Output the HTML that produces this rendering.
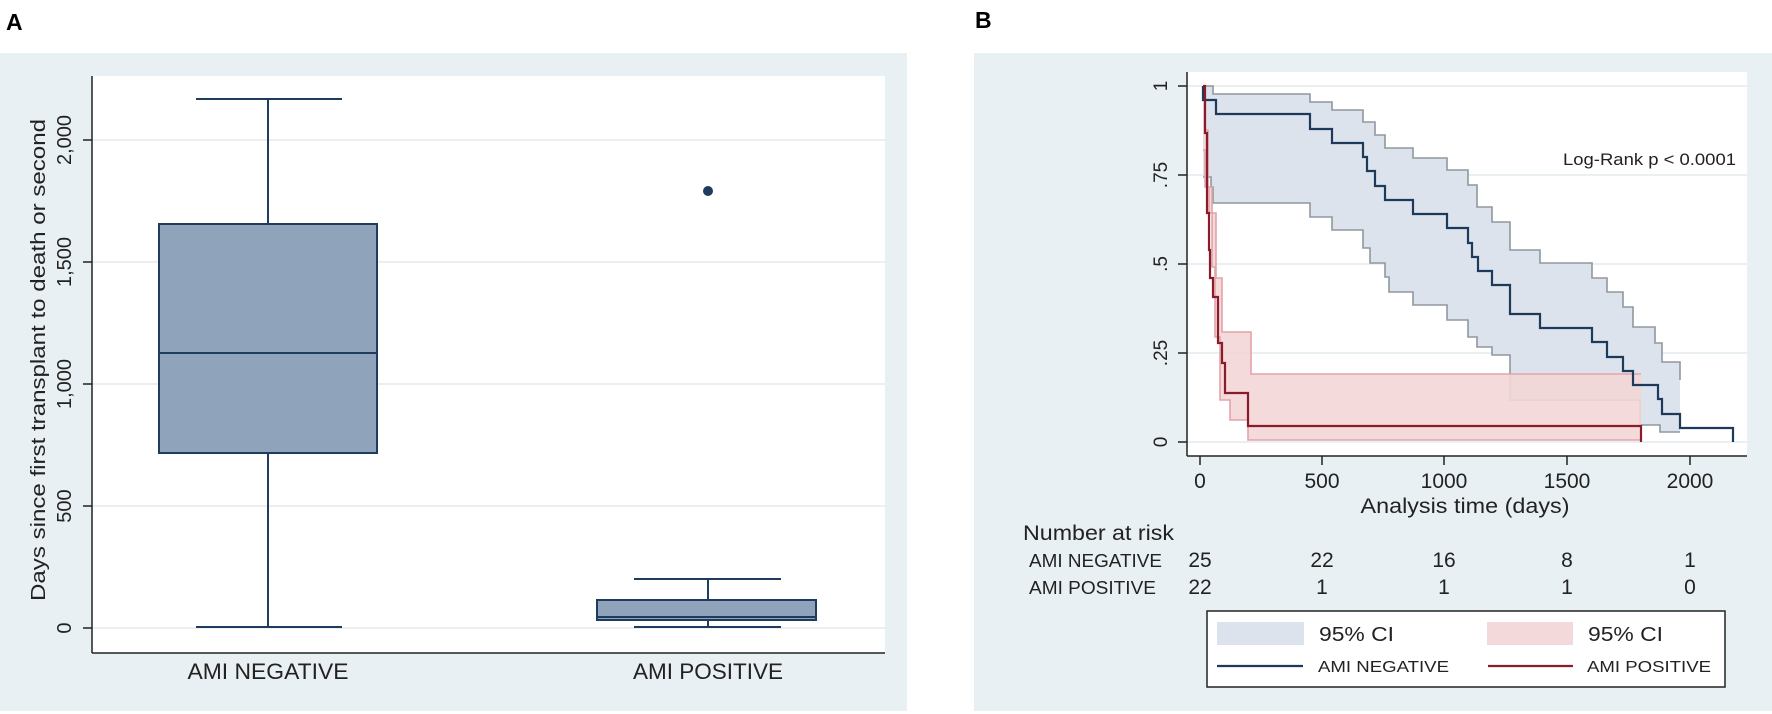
<!DOCTYPE html>
<html><head><meta charset="utf-8"><style>
html,body{margin:0;padding:0;background:#fff;}
svg{display:block;font-family:"Liberation Sans",Arial,sans-serif;}
</style></head><body>
<svg width="1772" height="714" viewBox="0 0 1772 714" xmlns="http://www.w3.org/2000/svg">
<rect width="1772" height="714" fill="#fff"/>
<!-- Panel A -->
<text x="6" y="30" font-size="23" font-weight="bold" fill="#000">A</text>
<rect x="0" y="53" width="907" height="658" fill="#e9f0f3"/>
<rect x="92" y="76" width="793" height="577" fill="#fff"/>
<g stroke="#e4ebee" stroke-width="1.5">
<line x1="92" y1="628" x2="885" y2="628"/><line x1="92" y1="506" x2="885" y2="506"/>
<line x1="92" y1="384" x2="885" y2="384"/><line x1="92" y1="262" x2="885" y2="262"/>
<line x1="92" y1="140" x2="885" y2="140"/>
</g>
<g stroke="#222" stroke-width="1.5">
<line x1="92" y1="76" x2="92" y2="653"/><line x1="92" y1="653" x2="885" y2="653"/>
<line x1="83" y1="628" x2="92" y2="628"/><line x1="83" y1="506" x2="92" y2="506"/>
<line x1="83" y1="384" x2="92" y2="384"/><line x1="83" y1="262" x2="92" y2="262"/>
<line x1="83" y1="140" x2="92" y2="140"/>
</g>
<g font-size="20" fill="#222" text-anchor="middle">
<text transform="translate(71,628) rotate(-90)">0</text>
<text transform="translate(71,506) rotate(-90)">500</text>
<text transform="translate(71,384) rotate(-90)">1,000</text>
<text transform="translate(71,262) rotate(-90)">1,500</text>
<text transform="translate(71,140) rotate(-90)">2,000</text>
<text transform="translate(45,360) rotate(-90)" textLength="482" lengthAdjust="spacingAndGlyphs">Days since first transplant to death or second</text>
</g>
<g stroke="#1f3c5e" stroke-width="2" fill="none">
<line x1="268" y1="99" x2="268" y2="224"/><line x1="196" y1="99" x2="342" y2="99"/>
<line x1="268" y1="453" x2="268" y2="627"/><line x1="196" y1="627" x2="342" y2="627"/>
<rect x="159" y="224" width="218" height="229" fill="#8fa3bb"/>
<line x1="159" y1="353" x2="377" y2="353"/>
<line x1="708" y1="579" x2="708" y2="600"/><line x1="634" y1="579" x2="781" y2="579"/>
<line x1="708" y1="620" x2="708" y2="627"/><line x1="634" y1="627" x2="781" y2="627"/>
<rect x="597" y="600" width="219" height="20" fill="#8fa3bb"/>
<line x1="597" y1="617" x2="816" y2="617"/>
</g>
<circle cx="708" cy="191" r="5" fill="#1f3c5e"/>
<g font-size="22" fill="#222" text-anchor="middle">
<text x="268" y="679" textLength="161" lengthAdjust="spacingAndGlyphs">AMI NEGATIVE</text>
<text x="708" y="679" textLength="150" lengthAdjust="spacingAndGlyphs">AMI POSITIVE</text>
</g>

<!-- Panel B -->
<text x="975" y="28" font-size="23" font-weight="bold" fill="#000">B</text>
<rect x="974" y="53" width="798" height="658" fill="#e9f0f3"/>
<rect x="1187" y="72" width="560" height="384" fill="#fff"/>
<g stroke="#e4ebee" stroke-width="1.5">
<line x1="1187" y1="86" x2="1747" y2="86"/><line x1="1187" y1="175" x2="1747" y2="175"/>
<line x1="1187" y1="264" x2="1747" y2="264"/><line x1="1187" y1="353" x2="1747" y2="353"/>
<line x1="1187" y1="442" x2="1747" y2="442"/>
</g>
<!-- blue CI -->
<polygon fill="#dde3ec" points="1203,86 1213,86 1213,94 1310,94 1310,102 1332,102 1332,110 1363,110 1363,122 1375,122 1375,135 1385,135 1385,148 1413,148 1413,158 1447,158 1447,170 1468,170 1468,185 1477,185 1477,207 1492,207 1492,222 1510,222 1510,250 1540,250 1540,263 1592,263 1592,278 1607,278 1607,292 1623,292 1623,307 1633,307 1633,327 1655,327 1655,343 1662,343 1662,362 1680,362 1680,432 1660,432 1660,425 1640,425 1640,400 1510,400 1510,355 1492,355 1492,347 1477,347 1477,337 1468,337 1468,320 1447,320 1447,305 1413,305 1413,292 1389,292 1389,277 1385,277 1385,263 1370,263 1370,248 1363,248 1363,230 1332,230 1332,217 1310,217 1310,203 1213,203 1213,187 1211,187 1211,177 1203,177"/>
<g fill="none" stroke="#8f979f" stroke-width="1.6">
<polyline points="1203,86 1213,86 1213,94 1310,94 1310,102 1332,102 1332,110 1363,110 1363,122 1375,122 1375,135 1385,135 1385,148 1413,148 1413,158 1447,158 1447,170 1468,170 1468,185 1477,185 1477,207 1492,207 1492,222 1510,222 1510,250 1540,250 1540,263 1592,263 1592,278 1607,278 1607,292 1623,292 1623,307 1633,307 1633,327 1655,327 1655,343 1662,343 1662,362 1680,362 1680,380"/>
<polyline points="1203,177 1211,177 1211,187 1213,187 1213,203 1310,203 1310,217 1332,217 1332,230 1363,230 1363,248 1370,248 1370,263 1385,263 1385,277 1389,277 1389,292 1413,292 1413,305 1447,305 1447,320 1468,320 1468,337 1477,337 1477,347 1492,347 1492,355 1510,355 1510,400 1640,400 1640,425 1660,425 1660,432 1680,432"/>
</g>
<!-- red CI -->
<polygon fill="#f3d6d6" fill-opacity="0.9" points="1203,86 1205,86 1205,130 1208,130 1208,187 1212,187 1212,213 1216,213 1216,278 1222,278 1222,332 1251,332 1251,374 1641,374 1641,440 1248,440 1248,420 1230,420 1230,400 1220,400 1220,337 1215,337 1215,267 1212,267 1212,213 1209,213 1209,187 1205,187 1205,150 1203,150"/>
<g fill="none" stroke="#e2a4a8" stroke-width="1.6">
<polyline points="1203,86 1205,86 1205,130 1208,130 1208,187 1212,187 1212,213 1216,213 1216,278 1222,278 1222,332 1251,332 1251,374 1641,374"/>
<polyline points="1203,150 1205,150 1205,187 1209,187 1209,213 1212,213 1212,267 1215,267 1215,337 1220,337 1220,400 1230,400 1230,420 1248,420 1248,440 1641,440"/>
</g>
<!-- blue KM -->
<polyline fill="none" stroke="#1e3a5a" stroke-width="2.2" points="1203,86 1203,100 1216,100 1216,114 1310,114 1310,129 1332,129 1332,143 1363,143 1363,157 1367,157 1367,171 1375,171 1375,186 1385,186 1385,200 1413,200 1413,214 1447,214 1447,228 1468,228 1468,243 1472,243 1472,257 1478,257 1478,271 1492,271 1492,285 1510,285 1510,314 1540,314 1540,328 1592,328 1592,342 1607,342 1607,357 1623,357 1623,371 1633,371 1633,385 1658,385 1658,399 1662,399 1662,414 1680,414 1680,428 1733,428 1733,442"/>
<!-- red KM -->
<polyline fill="none" stroke="#8b1a2a" stroke-width="2.2" points="1203,86 1205,86 1205,133 1207,133 1207,213 1209,213 1209,250 1210,250 1210,278 1213,278 1213,297 1218,297 1218,343 1222,343 1222,363 1225,363 1225,393 1248,393 1248,426 1641,426 1641,442"/>
<!-- axes -->
<g stroke="#222" stroke-width="1.5">
<line x1="1187" y1="72" x2="1187" y2="456"/><line x1="1187" y1="456" x2="1747" y2="456"/>
<line x1="1178" y1="86" x2="1187" y2="86"/><line x1="1178" y1="175" x2="1187" y2="175"/>
<line x1="1178" y1="264" x2="1187" y2="264"/><line x1="1178" y1="353" x2="1187" y2="353"/>
<line x1="1178" y1="442" x2="1187" y2="442"/>
<line x1="1200" y1="456" x2="1200" y2="465"/><line x1="1322" y1="456" x2="1322" y2="465"/>
<line x1="1444" y1="456" x2="1444" y2="465"/><line x1="1567" y1="456" x2="1567" y2="465"/>
<line x1="1690" y1="456" x2="1690" y2="465"/>
</g>
<g font-size="19" fill="#222" text-anchor="middle">
<text transform="translate(1167,86) rotate(-90)">1</text>
<text transform="translate(1167,175) rotate(-90)">.75</text>
<text transform="translate(1167,264) rotate(-90)">.5</text>
<text transform="translate(1167,353) rotate(-90)">.25</text>
<text transform="translate(1167,442) rotate(-90)">0</text>
</g>
<g font-size="21" fill="#222" text-anchor="middle">
<text x="1200" y="488">0</text><text x="1322" y="488">500</text>
<text x="1444" y="488">1000</text><text x="1567" y="488">1500</text><text x="1690" y="488">2000</text>
<text x="1465" y="513" textLength="209" lengthAdjust="spacingAndGlyphs">Analysis time (days)</text>
<text x="1200" y="567">25</text><text x="1322" y="567">22</text><text x="1444" y="567">16</text><text x="1567" y="567">8</text><text x="1690" y="567">1</text>
<text x="1200" y="594">22</text><text x="1322" y="594">1</text><text x="1444" y="594">1</text><text x="1567" y="594">1</text><text x="1690" y="594">0</text>
</g>
<text x="1563" y="165" font-size="17" fill="#222" textLength="173" lengthAdjust="spacingAndGlyphs">Log-Rank p &lt; 0.0001</text>
<g fill="#222">
<text x="1023" y="540" font-size="21" textLength="151" lengthAdjust="spacingAndGlyphs">Number at risk</text>
<text x="1029" y="567" font-size="18" textLength="133" lengthAdjust="spacingAndGlyphs">AMI NEGATIVE</text>
<text x="1029" y="594" font-size="18" textLength="127" lengthAdjust="spacingAndGlyphs">AMI POSITIVE</text>
</g>
<!-- legend -->
<rect x="1207" y="611" width="518" height="76" fill="#fff" stroke="#222" stroke-width="1.5"/>
<rect x="1217" y="622" width="87" height="23" fill="#dde3ec"/>
<rect x="1487" y="622" width="86" height="23" fill="#f3d9d9"/>
<line x1="1217" y1="666" x2="1303" y2="666" stroke="#1e3a5a" stroke-width="2.2"/>
<line x1="1488" y1="666" x2="1573" y2="666" stroke="#8b1a2a" stroke-width="2.2"/>
<g fill="#222">
<text x="1319" y="641" font-size="20" textLength="75" lengthAdjust="spacingAndGlyphs">95% CI</text>
<text x="1588" y="641" font-size="20" textLength="75" lengthAdjust="spacingAndGlyphs">95% CI</text>
<text x="1318" y="672" font-size="16" textLength="131" lengthAdjust="spacingAndGlyphs">AMI NEGATIVE</text>
<text x="1587" y="672" font-size="16" textLength="124" lengthAdjust="spacingAndGlyphs">AMI POSITIVE</text>
</g>
</svg>
</body></html>
